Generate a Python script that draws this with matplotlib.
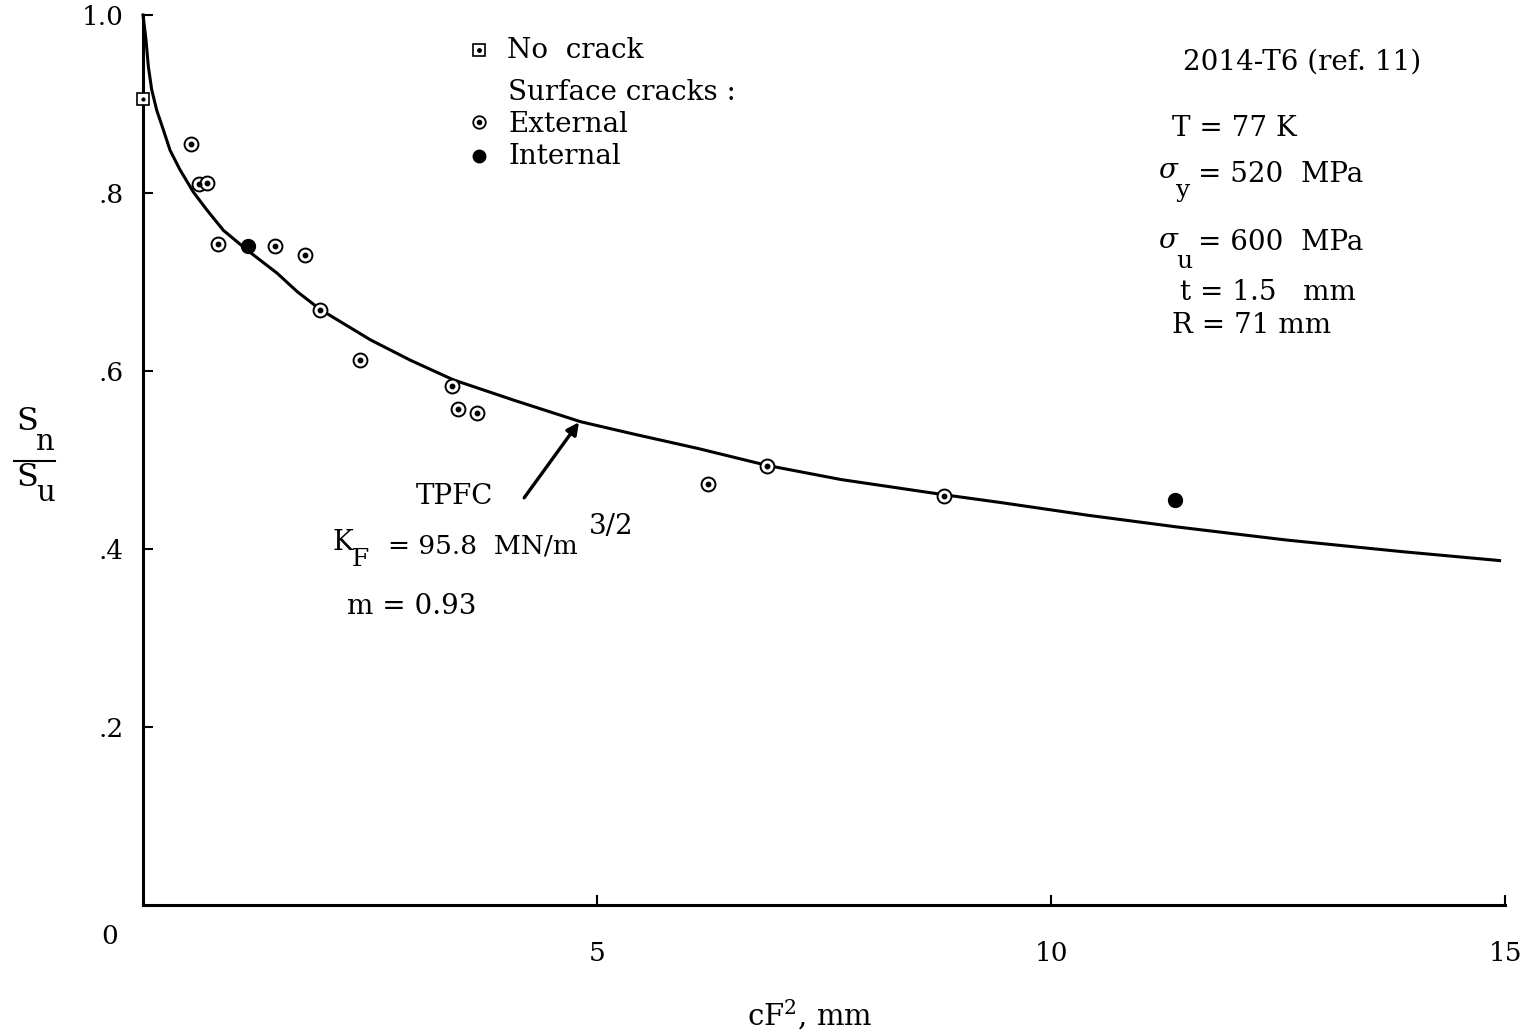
import numpy as np
import matplotlib
matplotlib.use("Agg")
import matplotlib.pyplot as plt

plt.rcParams['font.family'] = ['DejaVu Serif']
plt.rcParams['mathtext.fontset'] = 'dejavuserif'

# data (cF^2 in mm, Sn/Su)
no_crack_x = [0.0]
no_crack_y = [0.906]

external_x = [0.53, 0.62, 0.70, 0.83, 1.45, 1.78, 1.95, 2.39, 3.40, 3.47, 3.68, 6.22, 6.87, 8.82]
external_y = [0.855, 0.810, 0.811, 0.743, 0.740, 0.730, 0.669, 0.612, 0.583, 0.557, 0.553, 0.473, 0.493, 0.460]

internal_x = [1.16, 11.37]
internal_y = [0.740, 0.455]

# TPFC curve, traced
tpfc_x = [0.0, 0.033, 0.059, 0.096, 0.151, 0.224, 0.298, 0.408, 0.555, 0.703, 0.886,
          1.145, 1.476, 1.70, 1.954, 2.505, 2.947, 3.42, 4.09, 4.82, 5.41, 6.11,
          6.87, 7.69, 8.82, 9.46, 10.40, 11.37, 12.60, 13.87, 14.94]
tpfc_y = [1.0, 0.972, 0.942, 0.916, 0.893, 0.871, 0.848, 0.826, 0.801, 0.781, 0.758,
          0.736, 0.710, 0.689, 0.669, 0.635, 0.612, 0.590, 0.567, 0.543, 0.529, 0.513,
          0.494, 0.478, 0.461, 0.452, 0.438, 0.425, 0.410, 0.397, 0.387]

xticks = [5, 10, 15]
yticks = [0.2, 0.4, 0.6, 0.8, 1.0]
yticklabels = ['.2', '.4', '.6', '.8', '1.0']

W, H = 1526, 1035
fig = plt.figure(figsize=(W / 100, H / 100), dpi=100)
ax = fig.add_axes([143 / W, 1 - 905 / H, (1505 - 143) / W, 890 / H])

def fx(px):
    return px / W

def fy(py):
    return 1 - py / H

def txt(px, py, s, size=20, **kw):
    fig.text(fx(px), fy(py), s, fontsize=size, va='center', **kw)

def mark(px, py, **kw):
    fig.lines.append(plt.Line2D([fx(px)], [fy(py)], transform=fig.transFigure, **kw))

FS = 20

ax.plot(tpfc_x, tpfc_y, color='black', lw=2.2, clip_on=False, zorder=2,
        solid_joinstyle='round')

# external: open circle with dot
ax.plot(external_x, external_y, 'o', ms=10, mfc='white', mec='black', mew=1.4, zorder=3)
ax.plot(external_x, external_y, 'o', ms=3.2, color='black', zorder=4)
# internal: filled dot
ax.plot(internal_x, internal_y, 'o', ms=10, color='black', zorder=3)
# no crack: square with dot
ax.plot(no_crack_x, no_crack_y, 's', ms=9, mfc='white', mec='black', mew=1.2, clip_on=False, zorder=3)
ax.plot(no_crack_x, no_crack_y, 'o', ms=2, color='black', clip_on=False, zorder=4)

ax.set_xlim(0, 15)
ax.set_ylim(0, 1.0)
for s in ['top', 'right']:
    ax.spines[s].set_visible(False)
for s in ['left', 'bottom']:
    ax.spines[s].set_linewidth(2.2)

ax.set_xticks(xticks)
ax.set_xticklabels([str(t) for t in xticks], fontsize=19)
ax.set_yticks(yticks)
ax.set_yticklabels(yticklabels, fontsize=19)
ax.tick_params(axis='x', direction='in', length=7, width=1.5, pad=26)
ax.tick_params(axis='y', direction='in', length=7, width=1.5, pad=14)

txt(110, 937, '0', size=19, ha='center')

# axis labels
fig.text(fx(810), fy(1015), r'cF$^2$, mm', fontsize=21, ha='center', va='center')
txt(16, 422, 'S', size=23)
txt(36, 442, 'n', size=21)
txt(16, 477, 'S', size=23)
txt(36, 493, 'u', size=21)
fig.lines.append(plt.Line2D([fx(14), fx(55)], [fy(461), fy(461)], transform=fig.transFigure,
                            color='black', lw=1.5))

# legend
lx = 479
mark(lx, 50, marker='s', ms=8, mfc='white', mec='black', mew=1.2)
mark(lx, 50, marker='o', ms=2.5, color='black')
mark(lx, 122, marker='o', ms=9, mfc='white', mec='black', mew=1.3)
mark(lx, 122, marker='o', ms=3, color='black')
mark(lx, 156, marker='o', ms=9, color='black')
txt(507, 50, 'No  crack', size=FS)
txt(508, 92, 'Surface cracks :', size=FS)
txt(508, 124, 'External', size=FS)
txt(508, 156, 'Internal', size=FS)

# conditions block
txt(1183, 62, '2014-T6 (ref. 11)', size=FS)
txt(1172, 128, 'T = 77 K', size=FS)
txt(1158, 170, r'$\sigma$', size=FS)
txt(1176, 191, 'y', size=18)
txt(1198, 175, '= 520  MPa', size=FS)
txt(1158, 240, r'$\sigma$', size=FS)
txt(1176, 262, 'u', size=18)
txt(1198, 243, '= 600  MPa', size=FS)
txt(1180, 292, 't = 1.5   mm', size=FS)
txt(1172, 325, 'R = 71 mm', size=FS)

# TPFC annotation
ax.annotate('', xy=(4.82, 0.545), xytext=(4.18, 0.455),
            arrowprops=dict(arrowstyle='-|>', color='black', lw=2.4, mutation_scale=18))
txt(416, 496, 'TPFC', size=FS)
txt(333, 543, 'K', size=FS)
txt(352, 560, 'F', size=18)
txt(388, 546, '= 95.8  MN/m', size=19)
txt(589, 526, '3/2', size=FS)
txt(347, 607, 'm = 0.93', size=FS)

fig.savefig('out.png', dpi=100)
